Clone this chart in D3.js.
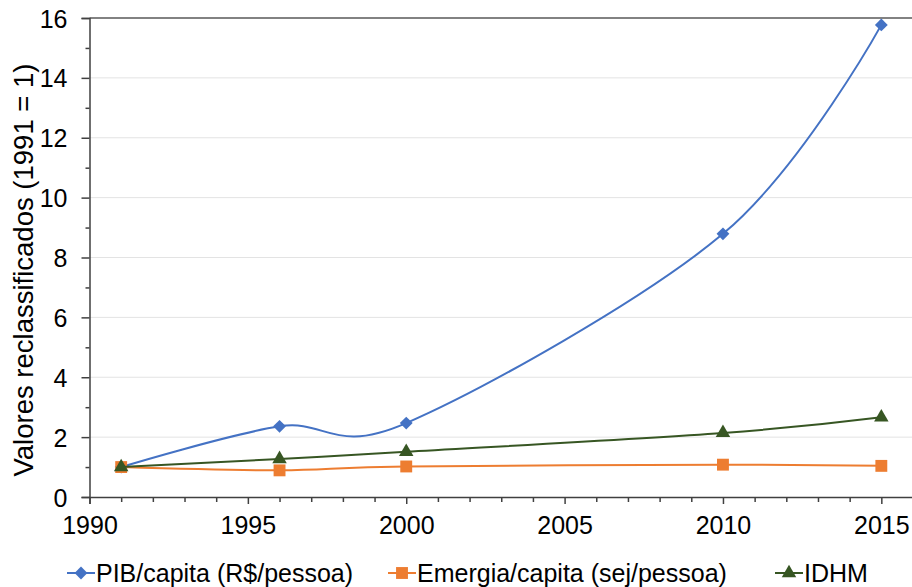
<!DOCTYPE html>
<html>
<head>
<meta charset="utf-8">
<script src="https://cdn.jsdelivr.net/npm/d3@7"></script>
<style>
  body { margin: 0; background: #fff; }
  svg { display: block; font-family: "Liberation Sans", Arial, sans-serif; }
</style>
</head>
<body>
<svg class="chart"></svg>
<script>
var years = [1991, 1996, 2000, 2010, 2015];
var pib = [1.0, 2.36, 2.47, 8.79, 15.77];
var emergia = [1.0, 0.89, 1.02, 1.08, 1.04];
var idhm = [1.0, 1.27, 1.51, 2.14, 2.66];
var xTicks = [1990, 1995, 2000, 2005, 2010, 2015];
var yTicks = [0, 2, 4, 6, 8, 10, 12, 14, 16];

var series = [
  {name: "PIB/capita (R$/pessoa)", values: pib, color: "#4472c4", symbol: d3.symbolDiamond2, size: 105, lx: 67},
  {name: "Emergia/capita (sej/pessoa)", values: emergia, color: "#ed7d31", symbol: d3.symbolSquare2, size: 180, lx: 388},
  {name: "IDHM", values: idhm, color: "#375623", symbol: d3.symbolTriangle2, size: 150, lx: 775}
];

var width = 912,
    height = 587;

var svg = d3.select(".chart").attr("width", width).attr("height", height);

var x = d3.scaleLinear().domain([1990, 2016]).range([89.5, 913]);
var y = d3.scaleLinear().domain([0, 16]).range([497, 18]);

// grid lines
svg.append("g")
  .selectAll("line")
  .data(yTicks.slice(1, -1))
  .enter().append("line")
    .attr("x1", x(1990)).attr("x2", width)
    .attr("y1", function(d) { return y(d); })
    .attr("y2", function(d) { return y(d); })
    .attr("stroke", "#e3e3e3")
    .attr("stroke-width", 1);

// top border
svg.append("line")
  .attr("x1", x(1990)).attr("x2", width)
  .attr("y1", y(16)).attr("y2", y(16))
  .attr("stroke", "#595959").attr("stroke-width", 1.5);

// y axis
var yAxis = svg.append("g")
  .attr("transform", "translate(" + x(1990) + ",0)")
  .call(d3.axisLeft(y).tickValues(yTicks).tickSize(8).tickPadding(14).tickFormat(d3.format("d")));
svg.append("g")
  .attr("transform", "translate(" + x(1990) + ",0)")
  .call(d3.axisLeft(y).tickValues(d3.range(1, 16, 2)).tickSize(4).tickFormat(""))
  .call(function(g) { g.select(".domain").remove(); });

// x axis
var xAxis = svg.append("g")
  .attr("transform", "translate(0," + y(0) + ")")
  .call(d3.axisBottom(x).tickValues(xTicks).tickSize(7).tickPadding(12).tickFormat(d3.format("d")));
svg.append("g")
  .attr("transform", "translate(0," + y(0) + ")")
  .call(d3.axisBottom(x).tickValues(d3.range(1991, 2016).filter(function(d) { return d % 5 != 0; })).tickSize(5).tickFormat(""))
  .call(function(g) { g.select(".domain").remove(); });

svg.selectAll(".domain, .tick line").attr("stroke", "#404040").attr("stroke-width", 1.5);
svg.selectAll(".tick text").attr("font-size", 25).attr("fill", "#000").attr("font-family", "Liberation Sans, Arial, sans-serif");
yAxis.selectAll(".tick text").attr("dy", "0.36em");

// axis title
svg.append("text")
  .attr("transform", "translate(33,270) rotate(-90)")
  .attr("text-anchor", "middle")
  .attr("font-size", 27.5)
  .text("Valores reclassificados (1991 = 1)");

var line = d3.line()
  .x(function(d, i) { return x(years[i]); })
  .y(function(d) { return y(d); })
  .curve(d3.curveCardinal.tension(0));

series.forEach(function(s) {
  svg.append("path")
    .attr("d", line(s.values))
    .attr("fill", "none")
    .attr("stroke", s.color)
    .attr("stroke-width", 2);

  svg.append("g")
    .selectAll("path")
    .data(s.values)
    .enter().append("path")
      .attr("transform", function(d, i) { return "translate(" + x(years[i]) + "," + y(d) + ")"; })
      .attr("d", d3.symbol().type(s.symbol).size(s.size))
      .attr("fill", s.color);
});

// legend
var legend = svg.append("g")
  .selectAll("g")
  .data(series)
  .enter().append("g")
    .attr("transform", function(d) { return "translate(" + d.lx + ",573)"; });

legend.append("line")
  .attr("x1", 0).attr("x2", 28)
  .attr("stroke", function(d) { return d.color; })
  .attr("stroke-width", 2);

legend.append("path")
  .attr("transform", "translate(14,0)")
  .attr("d", function(d) { return d3.symbol().type(d.symbol).size(d.size)(); })
  .attr("fill", function(d) { return d.color; });

legend.append("text")
  .attr("x", 29)
  .attr("dy", "0.36em")
  .attr("font-size", 25)
  .text(function(d) { return d.name; });
</script>
</body>
</html>
